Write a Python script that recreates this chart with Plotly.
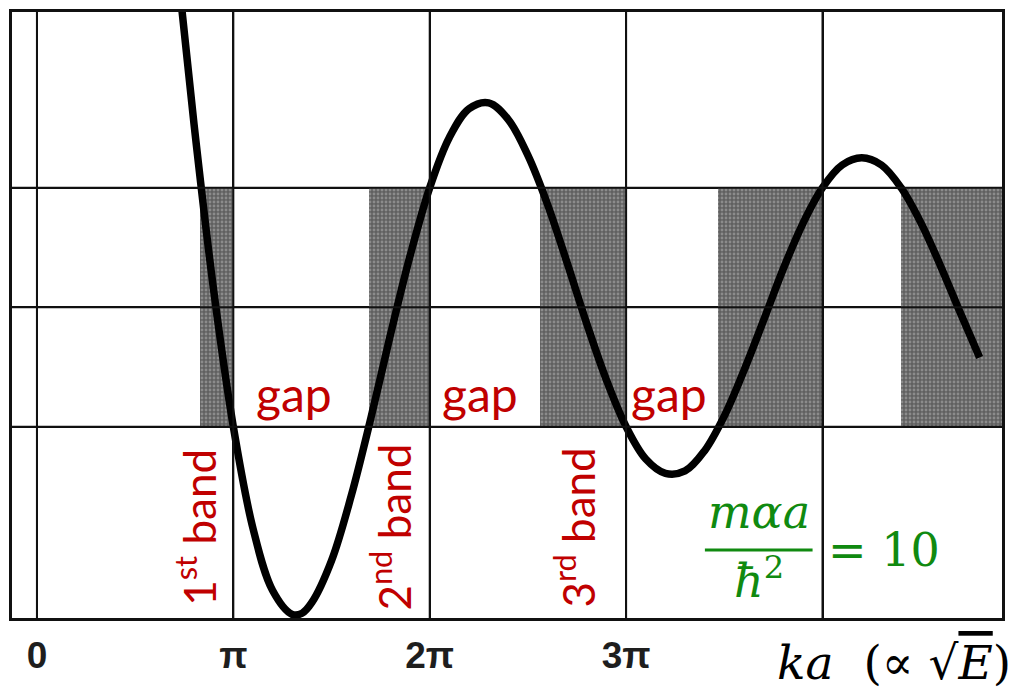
import plotly.graph_objects as go

# ---- data ----
# curve: x in units of pi (ka/pi), y = value of the band function
ka_over_pi = [0.72, 0.80, 0.90, 1.00, 1.10, 1.20, 1.30, 1.35, 1.40, 1.50, 1.60, 1.70,
              1.80, 1.90, 2.00, 2.10, 2.20, 2.30, 2.40, 2.50, 2.60, 2.70, 2.80, 2.90,
              3.00, 3.10, 3.20, 3.30, 3.40, 3.50, 3.60, 3.70, 3.80, 3.90, 4.00, 4.10,
              4.20, 4.30, 4.40, 4.50, 4.60, 4.70, 4.80]
f_values = [2.77, 1.53, 0.14, -1.00, -1.85, -2.37, -2.57, -2.56, -2.47, -2.12, -1.58, -0.93,
            -0.23, 0.43, 1.00, 1.42, 1.66, 1.71, 1.57, 1.27, 0.86, 0.37, -0.14, -0.61,
            -1.00, -1.27, -1.39, -1.37, -1.20, -0.91, -0.53, -0.11, 0.32, 0.70, 1.00, 1.19,
            1.25, 1.19, 1.00, 0.71, 0.35, -0.04, -0.42]

# allowed bands (shaded, |f| <= 1)
band_start = [0.832, 1.69, 2.56, 3.47, 4.40]
band_end = [1.00, 2.00, 3.00, 4.00, 4.914]
band_low, band_high = -1.0, 1.0

x_ticks = [0, 1, 2, 3, 4]
x_tick_labels = ["0", "π", "2π", "3π", ""]
y_grid = [-1, 0, 1]

x_range = [-0.127, 4.914]
y_range = [-2.60, 2.47]

gap_x = [1.31, 2.254, 3.218]
band_label_x = [0.808, 1.80, 2.737]
band_labels = ["1<sup>st</sup> band", "2<sup>nd</sup> band", "3<sup>rd</sup> band"]

RED = "#c00000"
GREEN = "#108a10"

fig = go.Figure()

centers = [(s + e) / 2 for s, e in zip(band_start, band_end)]
widths = [e - s for s, e in zip(band_start, band_end)]
fig.add_trace(go.Bar(
    x=centers, y=[band_high - band_low] * len(centers), base=band_low, width=widths,
    marker=dict(color="#606060", line=dict(width=0),
                pattern=dict(shape=".", fgcolor="#b8b8b8", size=4, solidity=0.4,
                             fillmode="overlay")),
    hoverinfo="skip", showlegend=False))

fig.add_trace(go.Scatter(
    x=ka_over_pi, y=f_values, mode="lines",
    line=dict(color="black", width=7.5, shape="spline", smoothing=1.0),
    showlegend=False, hoverinfo="skip"))


def px(xp):
    return (xp - 12) / 993


def py(yp):
    return (618 - yp) / 606


# grid lines redrawn above the shading
shapes = []
for xv in x_ticks:
    shapes.append(dict(type="line", xref="x", yref="paper", x0=xv, x1=xv, y0=0, y1=1,
                       line=dict(color="#111", width=2), layer="above"))
for yv in y_grid:
    shapes.append(dict(type="line", xref="paper", yref="y", x0=0, x1=1, y0=yv, y1=yv,
                       line=dict(color="#111", width=2), layer="above"))
# fraction bar of the green formula
shapes.append(dict(type="line", xref="paper", yref="paper",
                   x0=px(707), x1=px(815), y0=py(550), y1=py(550),
                   line=dict(color=GREEN, width=3), layer="above"))

annotations = []
for gx in gap_x:
    annotations.append(dict(x=gx, y=-0.72, xref="x", yref="y", text="gap", showarrow=False,
                            xanchor="center", yanchor="middle",
                            font=dict(family="Lato", size=48, color=RED)))
for bx, bt in zip(band_label_x, band_labels):
    annotations.append(dict(x=bx, y=-1.84, xref="x", yref="y", text=bt, showarrow=False,
                            textangle=-90, xanchor="center", yanchor="middle",
                            font=dict(family="Lato", size=44, color=RED)))

annotations += [
    dict(x=px(761), y=py(512), xref="paper", yref="paper", text="<i>mαa</i>",
         xanchor="center", yanchor="middle",
         showarrow=False, font=dict(family="DejaVu Serif", size=46, color=GREEN)),
    dict(x=px(761), y=py(578), xref="paper", yref="paper", text="<i>ħ</i><sup>2</sup>",
         xanchor="center", yanchor="middle",
         showarrow=False, font=dict(family="DejaVu Serif", size=46, color=GREEN)),
    dict(x=px(887), y=py(550), xref="paper", yref="paper", text="= 10",
         xanchor="center", yanchor="middle",
         showarrow=False, font=dict(family="DejaVu Serif", size=46, color=GREEN)),
    dict(x=px(1016), y=py(662), xref="paper", yref="paper",
         text="<i>ka</i>  (∝ √<span style='text-decoration:overline'><i>E</i></span>)",
         xanchor="right", yanchor="middle",
         showarrow=False, font=dict(family="DejaVu Serif", size=47, color="black")),
]

fig.update_layout(
    width=1012, height=690, autosize=False,
    margin=dict(l=12, r=7, t=12, b=72),
    paper_bgcolor="white", plot_bgcolor="white",
    barmode="overlay", bargap=0,
    shapes=shapes, annotations=annotations,
    xaxis=dict(range=x_range, tickvals=x_ticks, ticktext=x_tick_labels,
               showgrid=True, gridcolor="#111", gridwidth=2, zeroline=False,
               showline=True, mirror=True, linecolor="#111", linewidth=2.5,
               ticks="", ticklabelstandoff=3,
               tickfont=dict(family="Liberation Sans", size=37, color="#1e1e1e",
                             weight="bold")),
    yaxis=dict(range=y_range, tickvals=y_grid, showticklabels=False,
               showgrid=True, gridcolor="#111", gridwidth=2, zeroline=False,
               showline=True, mirror=True, linecolor="#111", linewidth=2.5, ticks=""),
)

fig.write_html("out.html", config={"displayModeBar": False},
               post_script="document.body.style.margin='0';document.body.style.overflow='hidden';")
